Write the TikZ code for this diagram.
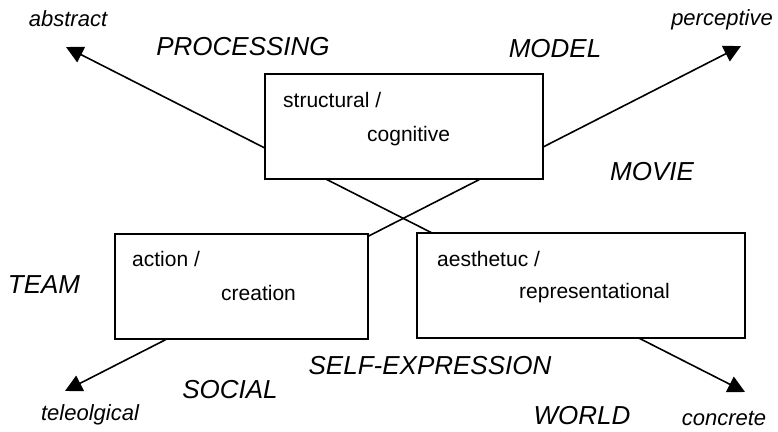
\documentclass[tikz,border=0pt]{standalone}
\usepackage{fontspec}
\setmainfont{Liberation Sans}
\usetikzlibrary{arrows.meta}

\begin{document}
\begin{tikzpicture}[x=1pt,y=-1pt,>={Triangle[length=17pt,width=17pt]},every node/.append style={inner sep=0pt},
  int/.style={draw, line width=1.1pt, fill=white, minimum height=105pt},
  boxtext/.style={anchor=west, font=\fontsize{21}{25}\selectfont},
  pole/.style={font=\fontsize{22}{26}\selectfont\itshape},
  mode/.style={font=\fontsize{26}{30}\selectfont\itshape},
  axis/.style={<->, line width=1.6pt}]
    \useasboundingbox (0,0) rectangle (778,431);
    \coordinate (abs) at (66,47);
    \coordinate (con) at (745,392);
    \coordinate (tel) at (65,391);
    \coordinate (per) at (741,46);
    \draw[axis] (abs) -- (con);
    \draw[axis] (tel) -- (per);
    \node [int, minimum width=278pt] (struct) at (404,126.5) {};
    \node [int, minimum width=253pt] (action) at (241.5,286.5) {};
    \node [int, minimum width=328pt] (aesth) at (581,285.5) {};
    \node [boxtext] (struct1) at (283,100) {structural /};
    \node [boxtext] (struct2) at (367,136) {cognitive};
    \node [boxtext] (action1) at (132,259) {action /};
    \node [boxtext] (action2) at (221,293) {creation};
    \node [boxtext] (aesth1) at (437,259) {aesthetuc /};
    \node [boxtext] (aesth2) at (519,293) {representational};
    \node [pole] (abstract) at (68,19) {abstract};
    \node [pole] (perceptive) at (722,20) {perceptive};
    \node [pole] (teleo) at (90,415) {teleolgical};
    \node [pole] (concrete) at (724,418) {concrete};
    \node [mode] (processing) at (243,47) {PROCESSING};
    \node [mode] (model) at (555,49) {MODEL};
    \node [mode] (movie) at (652,172) {MOVIE};
    \node [mode] (team) at (44,285) {TEAM};
    \node [mode] (selfexp) at (430,366) {SELF-EXPRESSION};
    \node [mode] (social) at (230,390) {SOCIAL};
    \node [mode] (world) at (582,416) {WORLD};
\end{tikzpicture}
\end{document}
